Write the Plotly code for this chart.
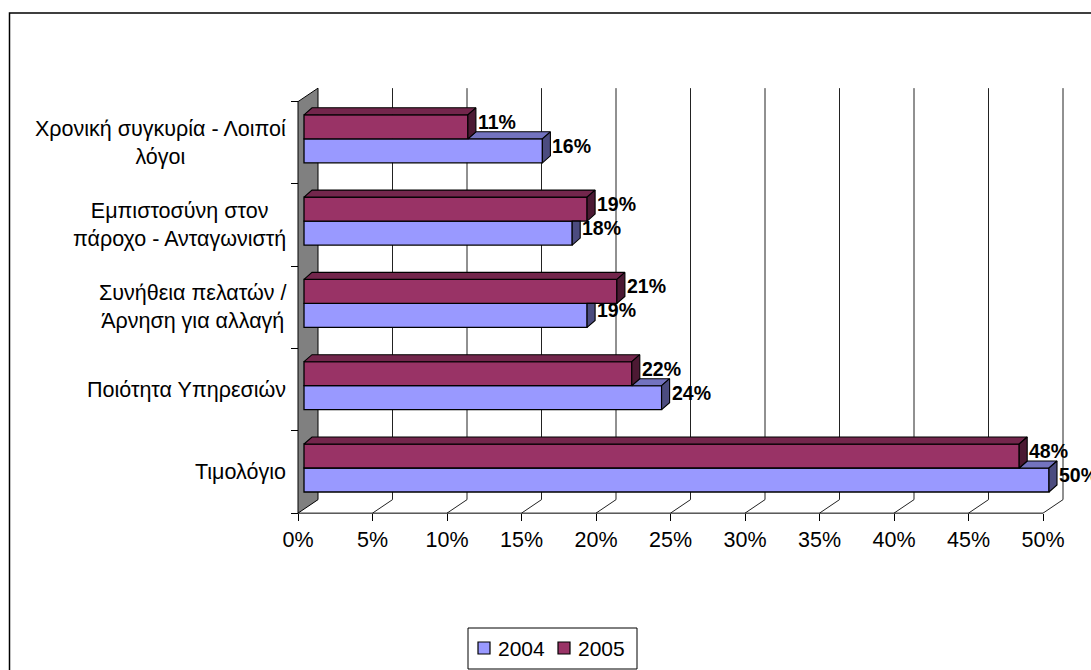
import plotly.graph_objects as go

# ---- data -----------------------------------------------------------------
categories = [
    "Τιμολόγιο",
    "Ποιότητα Υπηρεσιών",
    "Συνήθεια πελατών /<br>Άρνηση για αλλαγή",
    "Εμπιστοσύνη στον<br>πάροχο - Ανταγωνιστή",
    "Χρονική συγκυρία - Λοιποί<br>λόγοι",
]
values_2004 = [50, 24, 19, 18, 16]
values_2005 = [48, 22, 21, 19, 11]
series_names = ["2004", "2005"]
x_ticks = [0, 5, 10, 15, 20, 25, 30, 35, 40, 45, 50]
x_tick_labels = [f"{t}%" for t in x_ticks]

# ---- geometry of the pseudo-3D frame ---------------------------------------
W, H = 1091, 670
PX_PER_PCT = 14.9          # horizontal scale
PX_PER_CAT = 82.3          # height of one category band
BASE_PX = 304              # pixel column of 0% on the bar faces
CAT0_PX = 472              # pixel row of the first category centre

X_RANGE = [-BASE_PX / PX_PER_PCT, (W - BASE_PX) / PX_PER_PCT]
Y_RANGE = [(CAT0_PX - H) / PX_PER_CAT, CAT0_PX / PX_PER_CAT]

FRONT_DX = -6 / PX_PER_PCT      # front edge of wall/floor
BACK_DX = 14 / PX_PER_PCT       # back edge of wall/floor
WALL_DY = 13.5 / PX_PER_CAT
BAR_DX = 8 / PX_PER_PCT         # bar depth
BAR_DY = 7 / PX_PER_CAT
BAR_W = 24 / PX_PER_CAT
OFF_2005 = 16 / PX_PER_CAT
OFF_2004 = -8 / PX_PER_CAT

Y_LO, Y_HI = -0.5, len(categories) - 0.5

FONT = "Arial, Liberation Sans, sans-serif"

styles = {
    "2004": dict(front="#9999FF", top="#7373BF", side="#4C4C7F"),
    "2005": dict(front="#993366", top="#73264C", side="#4C1933"),
}

fig = go.Figure()

# front faces of the bars
for name, vals, off in [("2004", values_2004, OFF_2004), ("2005", values_2005, OFF_2005)]:
    fig.add_trace(go.Bar(
        name=name, orientation="h",
        x=vals, y=[i + off for i in range(len(vals))],
        base=0, width=BAR_W,
        marker=dict(color=styles[name]["front"], line=dict(color="black", width=1.3)),
        hoverinfo="x+name", showlegend=False,
    ))


def face(xs, ys, color):
    fig.add_trace(go.Scatter(
        x=xs + [xs[0]], y=ys + [ys[0]], mode="lines", fill="toself",
        fillcolor=color, line=dict(color="black", width=1.1),
        showlegend=False, hoverinfo="skip",
    ))


# depth faces of 2004 (partly hidden behind the 2005 bars above them)
for i, (v4, v5) in enumerate(zip(values_2004, values_2005)):
    yb = i + OFF_2004 - BAR_W / 2
    yt = i + OFF_2004 + BAR_W / 2
    if v4 > v5:
        # visible strip of the top face beyond the 2005 bar
        face([v5, v4, v4 + BAR_DX, v5 + BAR_DX],
             [yt, yt, yt + BAR_DY, yt + BAR_DY], styles["2004"]["top"])
        face([v4, v4, v4 + BAR_DX, v4 + BAR_DX],
             [yb, yt, yt + BAR_DY, yb + BAR_DY], styles["2004"]["side"])
    else:
        face([v4, v4, v4 + BAR_DX, v4 + BAR_DX],
             [yb, yt, yt, yb + BAR_DY], styles["2004"]["side"])

# depth faces of 2005
for i, v5 in enumerate(values_2005):
    yb = i + OFF_2005 - BAR_W / 2
    yt = i + OFF_2005 + BAR_W / 2
    face([0, v5, v5 + BAR_DX, BAR_DX],
         [yt, yt, yt + BAR_DY, yt + BAR_DY], styles["2005"]["top"])
    face([v5, v5, v5 + BAR_DX, v5 + BAR_DX],
         [yb, yt, yt + BAR_DY, yb + BAR_DY], styles["2005"]["side"])

# ---- wall, floor and gridlines ---------------------------------------------
shapes = []
shapes.append(dict(
    type="path", xref="x", yref="y", layer="below",
    path=(f"M{FRONT_DX},{Y_LO} L{FRONT_DX},{Y_HI} "
          f"L{BACK_DX},{Y_HI + WALL_DY} L{BACK_DX},{Y_LO + WALL_DY} Z"),
    fillcolor="#808080", line=dict(color="black", width=1),
))
for t in x_ticks[1:]:
    shapes.append(dict(type="line", xref="x", yref="y", layer="below",
                       x0=t + BACK_DX, x1=t + BACK_DX,
                       y0=Y_LO + WALL_DY, y1=Y_HI + WALL_DY,
                       line=dict(color="#222222", width=1)))
    shapes.append(dict(type="line", xref="x", yref="y", layer="below",
                       x0=t + FRONT_DX, x1=t + BACK_DX,
                       y0=Y_LO, y1=Y_LO + WALL_DY,
                       line=dict(color="#222222", width=1)))
shapes.append(dict(type="line", xref="x", yref="y", layer="below",
                   x0=x_ticks[0] + FRONT_DX, x1=x_ticks[-1] + FRONT_DX,
                   y0=Y_LO, y1=Y_LO, line=dict(color="black", width=1)))
# chart frame
shapes.append(dict(type="rect", xref="paper", yref="paper",
                   x0=9.5 / W, x1=1.05, y0=-0.05, y1=1 - 13 / H,
                   line=dict(color="black", width=1.5)))

# ---- legend box ------------------------------------------------------------
LEG_X0, LEG_X1, LEG_Y0, LEG_Y1 = 468, 637, 628, 669
LEG_ITEMS_X = [478, 558]        # left edge of each swatch
LEG_MID = 648
shapes.append(dict(type="rect", xref="paper", yref="paper",
                   x0=LEG_X0 / W, x1=LEG_X1 / W,
                   y0=1 - LEG_Y1 / H, y1=1 - LEG_Y0 / H,
                   fillcolor="white", line=dict(color="black", width=1)))
annotations = []
for name, lx in zip(series_names, LEG_ITEMS_X):
    shapes.append(dict(type="rect", xref="paper", yref="paper",
                       x0=lx / W, x1=(lx + 12) / W,
                       y0=1 - (LEG_MID + 6) / H, y1=1 - (LEG_MID - 6) / H,
                       fillcolor=styles[name]["front"],
                       line=dict(color="black", width=1.2)))
    annotations.append(dict(
        xref="paper", yref="paper", x=(lx + 18) / W, y=1 - LEG_MID / H,
        text=name, xanchor="left", yanchor="middle", showarrow=False,
        font=dict(family=FONT, size=21, color="black"),
    ))

# ---- annotations: category names and value labels --------------------------
for i, cat in enumerate(categories):
    annotations.append(dict(
        xref="paper", yref="y", x=288 / W, y=i, text=cat,
        xanchor="right", yanchor="middle", align="center", showarrow=False,
        font=dict(family=FONT, size=21.5, color="black"),
    ))
for vals, off in [(values_2004, OFF_2004), (values_2005, OFF_2005)]:
    for i, v in enumerate(vals):
        annotations.append(dict(
            xref="x", yref="y", x=v + BAR_DX, y=i + off, yshift=5, xshift=0,
            text=f"<b>{v}%</b>", xanchor="left", yanchor="middle",
            showarrow=False, font=dict(family=FONT, size=19.5, color="black"),
        ))

wall_front_paper = (BASE_PX + FRONT_DX * PX_PER_PCT) / W
axis_row_paper = (H - (CAT0_PX - Y_LO * PX_PER_CAT)) / H

fig.update_layout(
    width=W, height=H,
    margin=dict(l=0, r=0, t=0, b=0),
    paper_bgcolor="white", plot_bgcolor="white",
    barmode="overlay",
    font=dict(family=FONT, color="black"),
    xaxis=dict(range=X_RANGE, visible=False, fixedrange=True),
    xaxis2=dict(
        overlaying="x", anchor="free", position=axis_row_paper, side="bottom",
        range=[X_RANGE[0] - FRONT_DX, X_RANGE[1] - FRONT_DX],
        tickmode="array", tickvals=x_ticks, ticktext=x_tick_labels,
        ticks="outside", ticklen=7, tickcolor="black", tickwidth=1,
        tickfont=dict(family=FONT, size=21.5, color="black"),
        showgrid=False, zeroline=False, showline=False, fixedrange=True,
    ),
    yaxis=dict(
        range=Y_RANGE, anchor="free", position=wall_front_paper,
        tickmode="array", tickvals=[k - 0.5 for k in range(len(categories) + 1)],
        ticks="outside", ticklen=7, tickcolor="black", tickwidth=1,
        showticklabels=False, showgrid=False, zeroline=False, showline=False,
        fixedrange=True,
    ),
    showlegend=False,
    shapes=shapes,
    annotations=annotations,
)

# an invisible trace on the second x-axis so that it is drawn
fig.add_trace(go.Scatter(x=[x_ticks[0]], y=[Y_LO], xaxis="x2", mode="markers",
                         marker=dict(opacity=0), showlegend=False, hoverinfo="skip"))

fig.write_html("out.html")
